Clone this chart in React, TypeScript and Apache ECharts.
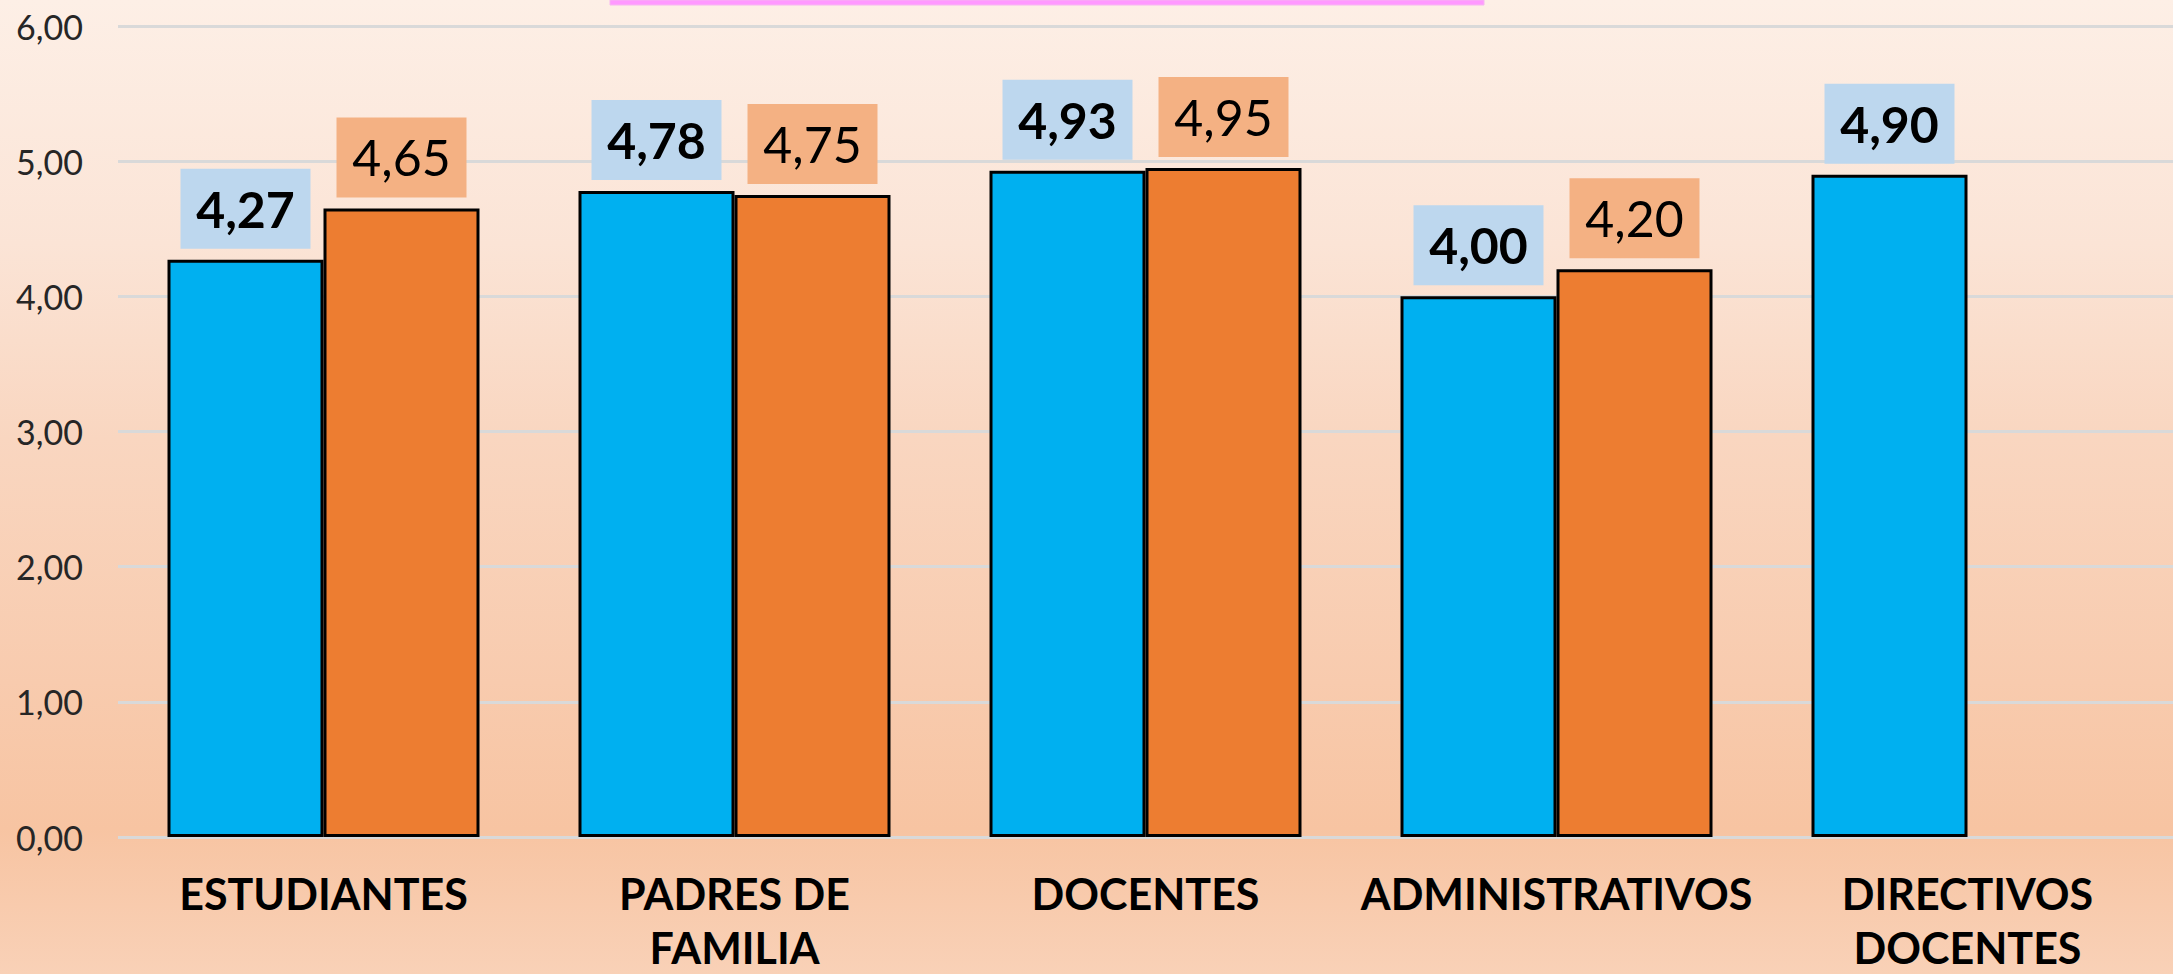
import React, { useEffect, useRef } from "react";
import * as echarts from "echarts";

const categories = [
  "ESTUDIANTES",
  "PADRES DE\nFAMILIA",
  "DOCENTES",
  "ADMINISTRATIVOS",
  "DIRECTIVOS\nDOCENTES",
];
const blueValues = [4.27, 4.78, 4.93, 4.0, 4.9];
const orangeValues: (number | null)[] = [4.65, 4.75, 4.95, 4.2, null];
const yMin = 0;
const yMax = 6;
const yStep = 1;

const fmt = (v: number) => v.toFixed(2).replace(".", ",");
const FONT = "Lato, 'Open Sans', sans-serif";

export default function App() {
  const ref = useRef<HTMLDivElement>(null);
  useEffect(() => {
    document.body.style.margin = "0";
    if (!ref.current) return;
    const chart = echarts.init(ref.current, undefined, { renderer: "svg" });
    const labelBase = {
      show: true,
      position: "top" as const,
      distance: 11,
      width: 130,
      height: 80,
      lineHeight: 80,
      align: "center" as const,
      fontFamily: FONT,
      fontSize: 50,
      color: "#000",
      formatter: (p: any) => fmt(p.value),
    };
    chart.setOption({
      animation: false,
      backgroundColor: "transparent",
      grid: {
        left: 118,
        right: 0,
        top: 26,
        bottom: 137,
        containLabel: false,
        outerBoundsMode: "none",
      },
      xAxis: {
        type: "category",
        data: categories,
        axisLine: { show: false },
        axisTick: { show: false },
        axisLabel: {
          interval: 0,
          fontFamily: FONT,
          fontWeight: "bold",
          fontSize: 43,
          lineHeight: 54,
          color: "#000",
          margin: 29,
        },
      },
      yAxis: {
        type: "value",
        min: yMin,
        max: yMax,
        interval: yStep,
        axisLine: { show: false },
        axisTick: { show: false },
        axisLabel: {
          formatter: (v: number) => fmt(v),
          fontFamily: FONT,
          fontSize: 34,
          color: "#262626",
          margin: 35,
        },
        splitLine: { lineStyle: { color: "#D9D9D9", width: 3 } },
      },
      series: [
        {
          type: "bar",
          data: blueValues,
          barWidth: 156,
          barGap: "0%",
          itemStyle: { color: "#00B0F0", borderColor: "#000", borderWidth: 3 },
          label: { ...labelBase, fontWeight: "bold", backgroundColor: "#BDD7EE" },
        },
        {
          type: "bar",
          data: orangeValues,
          barWidth: 156,
          barGap: "0%",
          itemStyle: { color: "#ED7D31", borderColor: "#000", borderWidth: 3 },
          label: { ...labelBase, fontWeight: "normal", backgroundColor: "#F4B183" },
        },
      ],
      graphic: [
        {
          type: "rect",
          shape: { x: 610, y: 0, width: 874, height: 5 },
          style: { fill: "#FF99FF", stroke: "#F6B6F0", lineWidth: 1 },
        },
      ],
    });
    return () => chart.dispose();
  }, []);
  return (
    <div
      ref={ref}
      style={{
        width: 2173,
        height: 974,
        background:
          "linear-gradient(to bottom, #FDEFE6 0%, #FBE4D6 25%, #F9D6C0 45%, #F8CBAE 70%, #F7C4A2 85%, #F9D1B7 100%)",
      }}
    />
  );
}
